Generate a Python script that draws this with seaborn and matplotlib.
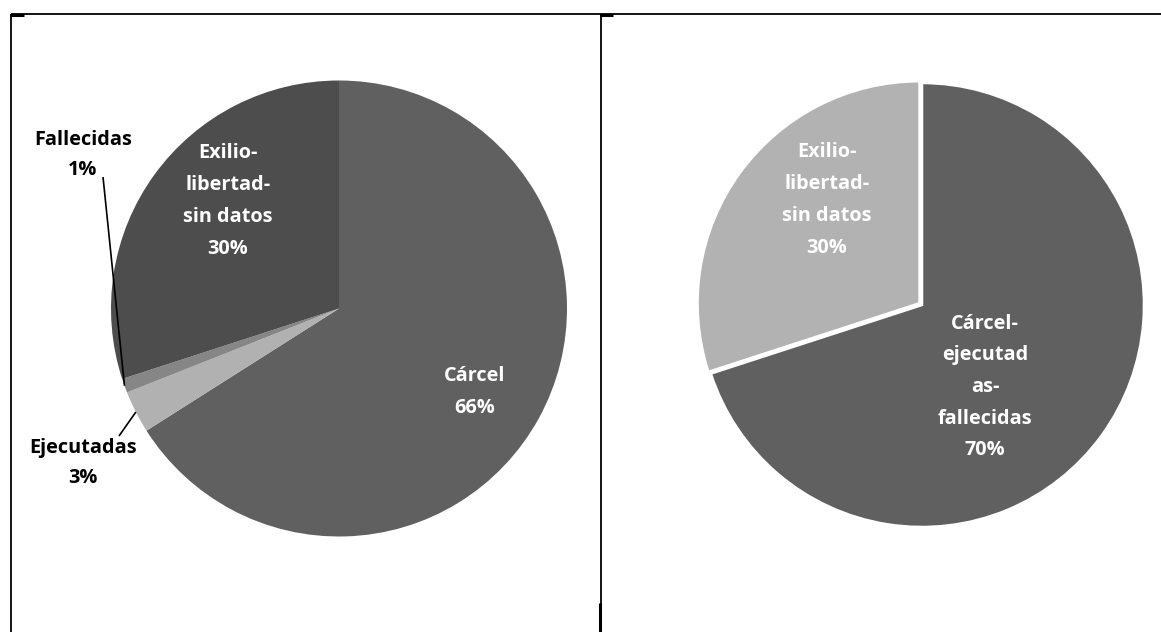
import matplotlib
matplotlib.use("Agg")
import math
import matplotlib.pyplot as plt
from matplotlib.lines import Line2D
import seaborn as sns

# Destino de las mujeres: desglose y agrupado
left_labels = ["Cárcel", "Ejecutadas", "Fallecidas", "Exilio-\nlibertad-\nsin datos"]
left_values = [66, 3, 1, 30]
left_colors = ["#606060", "#b1b1b1", "#868686", "#4d4d4d"]

right_labels = ["Cárcel-\nejecutad\nas-\nfallecidas", "Exilio-\nlibertad-\nsin datos"]
right_values = [70, 30]
right_colors = ["#606060", "#b2b2b2"]

sns.set_theme(style="white")
plt.rcParams["font.family"] = ["Open Sans", "DejaVu Sans"]

W, H = 1161, 632
fig = plt.figure(figsize=(W / 100, H / 100), dpi=100)
ax = fig.add_axes([0, 0, 1, 1])


def px(x, y):
    """Pixel position measured from the top-left corner -> data coords."""
    return (x, H - y)


left_center, left_r = px(339, 308.5), 228
right_center, right_r = px(922, 305), 222

wl, _ = ax.pie(left_values, colors=left_colors, startangle=90, counterclock=False,
               center=left_center, radius=left_r, wedgeprops=dict(linewidth=0))
wr, _ = ax.pie(right_values, colors=right_colors, startangle=90, counterclock=False,
               center=right_center, radius=right_r, explode=[0, 3],
               wedgeprops=dict(edgecolor="white", linewidth=1.8))

ax.set_xlim(0, W)
ax.set_ylim(0, H)
ax.set_aspect("equal")
ax.axis("off")

inner = dict(fontsize=14.3, fontweight="bold", ha="center", va="center",
             linespacing=1.78, color="white")
outer = dict(fontsize=14.3, fontweight="bold", ha="center", va="center",
             linespacing=1.67, color="black")


def label(i, labels, values):
    return f"{labels[i]}\n{values[i]}%"


# labels inside the slices
ax.text(*px(475, 392), label(0, left_labels, left_values), **inner)
ax.text(*px(228, 201), label(3, left_labels, left_values), **inner)
ax.text(*px(827, 200), label(1, right_labels, right_values), **inner)
ax.text(*px(985, 387), label(0, right_labels, right_values), **inner)

# labels outside the thin slices, with leader lines to the slice edge
ax.text(*px(83, 155), label(2, left_labels, left_values), **outer)
ax.text(*px(83, 463), label(1, left_labels, left_values), **outer)


def edge_point(w):
    t = math.radians(0.5 * (w.theta1 + w.theta2))
    cx, cy = w.center
    return (cx + w.r * math.cos(t), cy + w.r * math.sin(t))


for w, start in ((wl[2], px(103, 177)), (wl[1], px(119, 436))):
    ex, ey = edge_point(w)
    ax.plot([start[0], ex], [start[1], ey], color="black", lw=1.2, solid_capstyle="butt")


# table cell borders around the two charts
def fline(x0, y0, x1, y1, lw=1.3):
    fig.add_artist(Line2D([x0 / W, x1 / W], [1 - y0 / H, 1 - y1 / H],
                          transform=fig.transFigure, color="black", lw=lw,
                          solid_capstyle="butt"))


fline(10.5, 13.5, W, 13.5)
fline(10.5, 13.5, 10.5, H)
fline(600.5, 13.5, 600.5, H)
fline(10, 14.5, 24, 14.5, lw=2.2)
fline(600, 14.5, 613, 14.5, lw=2.2)
fline(599.5, 603, 599.5, H, lw=2.2)

fig.savefig("out.png", dpi=100, facecolor="white")
